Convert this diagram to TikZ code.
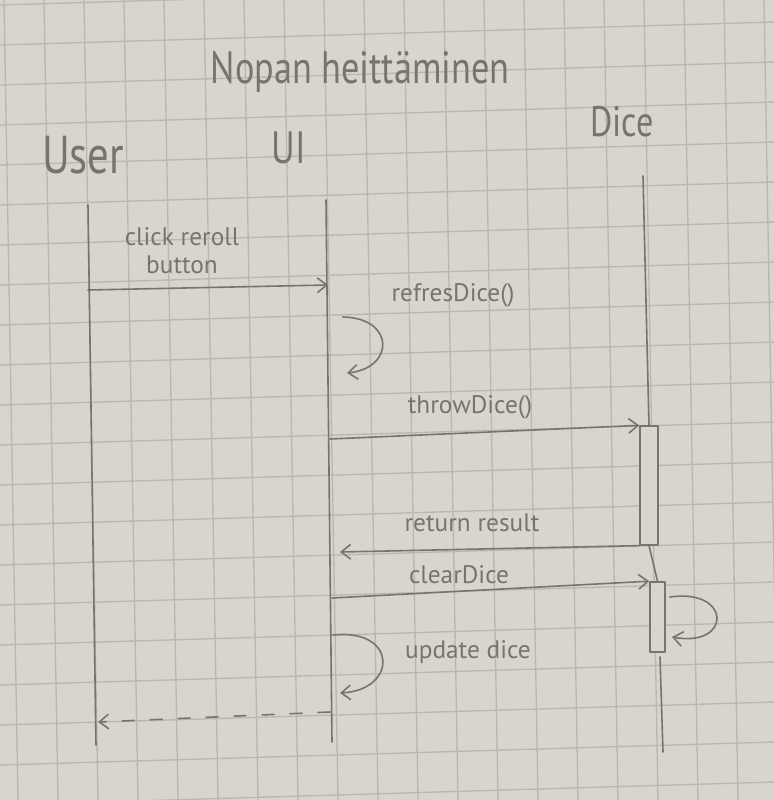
\documentclass[tikz,border=0pt]{standalone}
\usepackage{fontspec}
\setmainfont{PT Sans}
\newfontfamily\handnarrow{PT Sans}[FakeStretch=0.8]
\usetikzlibrary{arrows.meta}
\definecolor{paper}{HTML}{D8D5CE}
\definecolor{gridc}{HTML}{BAB7B1}
\definecolor{pencil}{HTML}{77746F}
\tikzset{
  pen/.style={draw=pencil, line width=1.2pt, line cap=round, line join=round},
  msg/.style={pen, -{Straight Barb[length=7pt,width=11pt]}},
  ret/.style={msg, dash pattern=on 9pt off 12pt},
  actor/.style={text=pencil, font=\handnarrow\fontsize{34}{40}\selectfont, inner sep=0pt},
  lbl/.style={text=pencil, font=\fontsize{19}{21}\selectfont, inner sep=0pt, align=center},
  actbox/.style={pen, fill=paper, inner sep=0pt},
  gridline/.style={draw=gridc, line width=1pt},
}
\begin{document}
\begin{tikzpicture}[x=0.75pt,y=-0.75pt]
\fill[paper] (0,0) rectangle (774,800);
\useasboundingbox (0,0) rectangle (774,800);
\begin{scope}
\clip (0,0) rectangle (774,800);
\foreach \k in {0,...,21} \draw[gridline] (0,{5+40*\k}) -- (774,{5+40*\k-23});
\foreach \j in {-1,...,19} \draw[gridline] ({4+40*\j},0) -- ({18+40*\j},800);
\end{scope}

% headings
\node[actor, font=\handnarrow\fontsize{34}{40}\selectfont] (title) at (360,72) {Nopan heittäminen};
\node[actor, font=\handnarrow\fontsize{40}{46}\selectfont] (user) at (83,155) {User};
\node[actor] (ui) at (289,148) {UI};
\node[actor, font=\handnarrow\fontsize{32}{38}\selectfont] (dice) at (622,122) {Dice};

% lifelines
\coordinate (userTop) at (88,205);
\coordinate (userBot) at (96,745);
\coordinate (uiTop) at (326,200);
\coordinate (uiBot) at (332,742);
\coordinate (diceTop) at (643,176);
\coordinate (diceLow) at (660,657);
\coordinate (diceBot) at (663,752);

\node[actbox, minimum width=13.5pt, minimum height=89pt] (act1) at (649,485.5) {};
\node[actbox, minimum width=11.25pt, minimum height=52.5pt] (act2) at (657.5,617) {};

\draw[pen] (userTop) -- (userBot);
\draw[pen] (uiTop) -- (uiBot);
\draw[pen] (diceTop) -- (act1.north);
\draw[pen] (act1.south) -- (act2.north);
\draw[pen] (diceLow) -- (diceBot);

% message 1
\coordinate (m1s) at (88,290);
\coordinate (m1e) at (328,285);
\draw[msg] (m1s) -- (m1e);
\node[lbl] (l1) at (182,251) {click reroll\\button};

% self call refresDice
\node[lbl] (l2) at (453,295) {refresDice()};
\coordinate (s1a) at (343,317);
\coordinate (s1b) at (347,373);
\draw[msg] (s1a) .. controls (395,318) and (395,368) .. (s1b);

% throwDice
\node[lbl] (l3) at (470,407) {throwDice()};
\coordinate (m2s) at (330,439);
\draw[msg] (m2s) -- (act1.north west);

% return result
\node[lbl] (l4) at (472,523) {return result};
\coordinate (m3e) at (340,552);
\draw[msg] (act1.south west) -- (m3e);

% clearDice
\node[lbl] (l5) at (459,575) {clearDice};
\coordinate (m4s) at (332,598);
\draw[msg] (m4s) -- (act2.north west);

% dice self loop
\coordinate (s2a) at (670,597);
\coordinate (s2b) at (672,637);
\draw[msg] (s2a) .. controls (732,588) and (732,648) .. (s2b);

% update dice
\node[lbl] (l6) at (468,652) {update dice};
\coordinate (s3a) at (333,635);
\coordinate (s3b) at (340,693);
\draw[msg] (s3a) .. controls (398,628) and (398,690) .. (s3b);

% dashed return to user
\coordinate (m5s) at (330,712);
\coordinate (m5e) at (98,722);
\draw[ret] (m5s) -- (m5e);
\end{tikzpicture}
\end{document}
